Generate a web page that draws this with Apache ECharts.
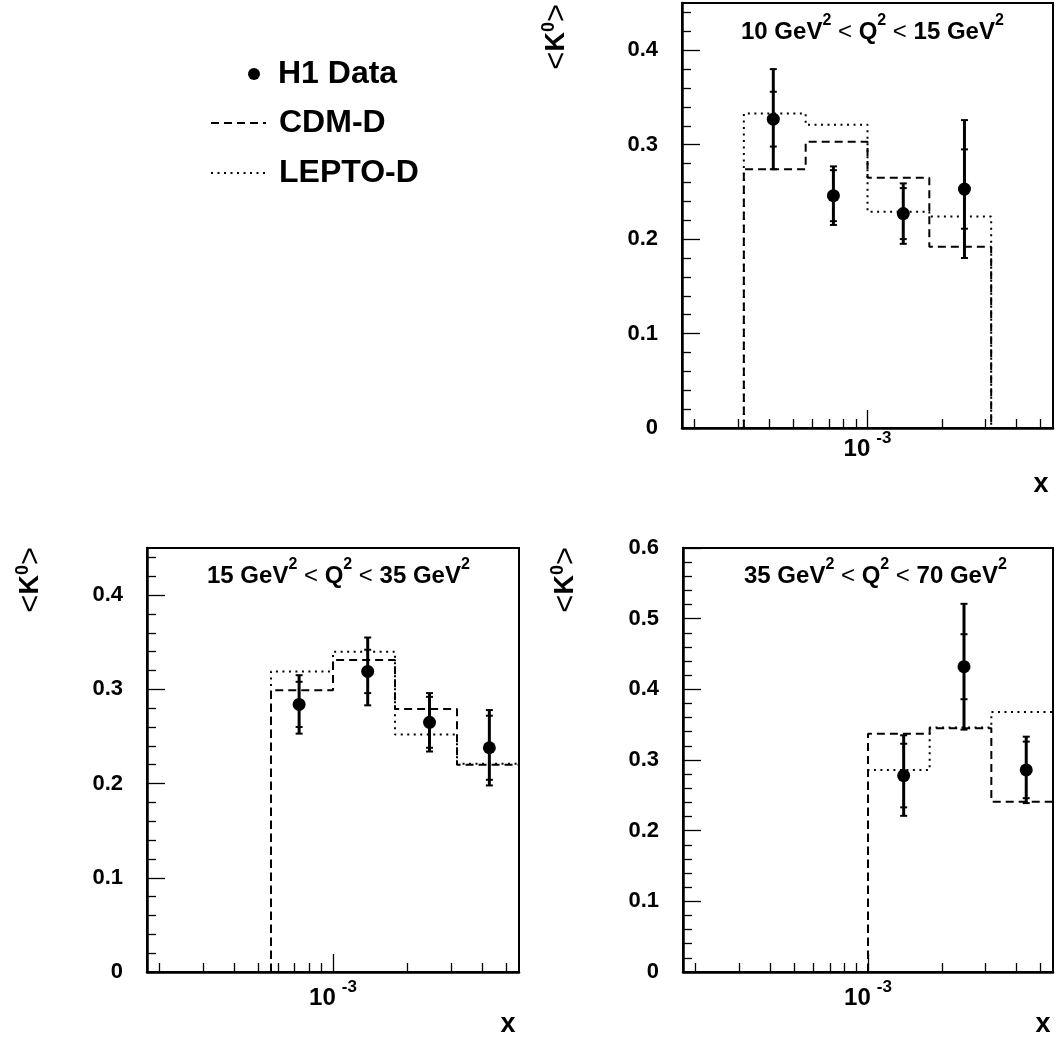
<!DOCTYPE html>
<html>
<head>
<meta charset="utf-8">
<script src="https://cdn.jsdelivr.net/npm/echarts@6/dist/echarts.min.js"></script>
<style>
  html, body { margin: 0; padding: 0; background: #fff; }
  #chart { width: 1057px; height: 1043px; }
</style>
</head>
<body>
<div id="chart"></div>
<script>
// ---------------- DATA ----------------
// Panel A: 10 GeV^2 < Q^2 < 15 GeV^2 (top right)
const edgesA = [3.162e-4, 5.623e-4, 1e-3, 1.778e-3, 3.162e-3];
const cdmA   = [0.274, 0.303, 0.265, 0.192];
const leptoA = [0.333, 0.321, 0.229, 0.224];
const xA     = [4.16e-4, 7.28e-4, 1.395e-3, 2.466e-3];
const valA   = [0.327, 0.246, 0.227, 0.253];
const statA  = [0.029, 0.027, 0.027, 0.042];
const totA   = [0.053, 0.031, 0.032, 0.073];

// Panel B: 15 GeV^2 < Q^2 < 35 GeV^2 (bottom left)
const edgesB = [5.623e-4, 1e-3, 1.778e-3, 3.162e-3, 5.623e-3];
const cdmB   = [0.299, 0.331, 0.279, 0.220];
const leptoB = [0.319, 0.340, 0.252, 0.221];
const xB     = [7.3e-4, 1.38e-3, 2.45e-3, 4.27e-3];
const valB   = [0.284, 0.319, 0.265, 0.238];
const statB  = [0.024, 0.023, 0.027, 0.034];
const totB   = [0.031, 0.036, 0.031, 0.040];

// Panel C: 35 GeV^2 < Q^2 < 70 GeV^2 (bottom right)
const edgesC = [1e-3, 1.778e-3, 3.162e-3, 5.623e-3];
const cdmC   = [0.337, 0.345, 0.241];
const leptoC = [0.286, 0.346, 0.368];
const xC     = [1.395e-3, 2.45e-3, 4.38e-3];
const valC   = [0.278, 0.432, 0.286];
const statC  = [0.045, 0.046, 0.040];
const totC   = [0.057, 0.089, 0.047];

// Axes / ticks
const xMin = 1.778e-4, xMax = 5.623e-3;
const xMajorTicks = [1e-3];
const xMinorTicks = [2e-4, 3e-4, 4e-4, 5e-4, 6e-4, 7e-4, 8e-4, 9e-4, 2e-3, 3e-3, 4e-3, 5e-3];
const yMajorAB = [0, 0.1, 0.2, 0.3, 0.4];
const yMajorC  = [0, 0.1, 0.2, 0.3, 0.4, 0.5, 0.6];
const yMaxAB = 0.45, yMaxC = 0.6;

const titles = [
  ['10 GeV', '2', 'Q', '2', '15 GeV', '2'],
  ['15 GeV', '2', 'Q', '2', '35 GeV', '2'],
  ['35 GeV', '2', 'Q', '2', '70 GeV', '2']
];

// ---------------- BUILD ----------------
const FONT = '"Liberation Sans", Arial, Helvetica, sans-serif';

function minorTicks(max) {
  const out = [];
  for (let i = 1; i * 0.02 < max - 1e-9; i++) {
    if (i % 5 !== 0) out.push(+(i * 0.02).toFixed(2));
  }
  return out;
}

function stepPoints(edges, vals) {
  const pts = [[edges[0], 0]];
  for (let i = 0; i < vals.length; i++) {
    pts.push([edges[i], vals[i]]);
    pts.push([edges[i + 1], vals[i]]);
  }
  pts.push([edges[edges.length - 1], 0]);
  return pts;
}

function renderErr(params, api) {
  const x = api.value(0), y = api.value(1), s = api.value(2), t = api.value(3);
  const c = api.coord([x, y]);
  const top = api.coord([x, y + t]), bot = api.coord([x, y - t]);
  const st = api.coord([x, y + s]), sb = api.coord([x, y - s]);
  const hw = 3.5;
  const cap = p => ({
    type: 'line',
    shape: { x1: c[0] - hw, y1: p[1], x2: c[0] + hw, y2: p[1] },
    style: { stroke: '#000', lineWidth: 2 }
  });
  return {
    type: 'group',
    children: [
      { type: 'line', shape: { x1: c[0], y1: top[1], x2: c[0], y2: bot[1] }, style: { stroke: '#000', lineWidth: 3 } },
      cap(top), cap(bot), cap(st), cap(sb),
      { type: 'circle', shape: { cx: c[0], cy: c[1], r: 6.5 }, style: { fill: '#000' } }
    ]
  };
}

const panels = [
  { grid: { left: 682, top: 3, width: 371, height: 425 }, yMax: yMaxAB, yMajor: yMajorAB,
    edges: edgesA, cdm: cdmA, lepto: leptoA, x: xA, val: valA, stat: statA, tot: totA, labelMargin: 2 },
  { grid: { left: 147, top: 548, width: 372, height: 424 }, yMax: yMaxAB, yMajor: yMajorAB,
    edges: edgesB, cdm: cdmB, lepto: leptoB, x: xB, val: valB, stat: statB, tot: totB, labelMargin: 7 },
  { grid: { left: 683, top: 548, width: 370, height: 424 }, yMax: yMaxC, yMajor: yMajorC,
    edges: edgesC, cdm: cdmC, lepto: leptoC, x: xC, val: valC, stat: statC, tot: totC, labelMargin: 7 }
];

const grid = [], xAxis = [], yAxis = [], series = [];
const axisLineStyle = { color: '#000', width: 2.5 };
const tickStyle = { color: '#000', width: 1.3 };

panels.forEach((p, i) => {
  grid.push(Object.assign({ show: true, borderColor: '#000', borderWidth: 2, backgroundColor: 'transparent' }, p.grid));
  // minor x ticks
  xAxis.push({
    gridIndex: i, type: 'log', logBase: 10, min: xMin, max: xMax, position: 'bottom',
    axisLine: { show: true, lineStyle: axisLineStyle },
    axisTick: { show: true, inside: true, length: 9, customValues: xMinorTicks, lineStyle: tickStyle },
    axisLabel: { show: false }, splitLine: { show: false }, minorTick: { show: false }
  });
  // major x tick + label
  xAxis.push({
    gridIndex: i, type: 'log', logBase: 10, min: xMin, max: xMax, position: 'bottom',
    axisLine: { show: false },
    axisTick: { show: true, inside: true, length: 18, customValues: xMajorTicks, lineStyle: tickStyle },
    axisLabel: {
      show: true, customValues: xMajorTicks, margin: p.labelMargin,
      formatter: () => '{a|10}{b|-3}',
      rich: {
        a: { fontFamily: FONT, fontSize: 24, fontWeight: 'bold', color: '#000', lineHeight: 38 },
        b: { fontFamily: FONT, fontSize: 17, fontWeight: 'bold', color: '#000', lineHeight: 17, verticalAlign: 'top', padding: [0, 0, 0, 6] }
      }
    },
    splitLine: { show: false }
  });
  // major y
  yAxis.push({
    gridIndex: i, type: 'value', min: 0, max: p.yMax, position: 'left',
    axisLine: { show: true, lineStyle: axisLineStyle },
    axisTick: { show: true, inside: true, length: 18, customValues: p.yMajor, lineStyle: tickStyle },
    axisLabel: {
      show: true, customValues: p.yMajor, margin: 24,
      fontFamily: FONT, fontSize: 22, fontWeight: 'bold', color: '#000',
      formatter: v => (Math.abs(v) < 1e-9 ? '0' : v.toFixed(1))
    },
    splitLine: { show: false }
  });
  // minor y
  yAxis.push({
    gridIndex: i, type: 'value', min: 0, max: p.yMax, position: 'left',
    axisLine: { show: false },
    axisTick: { show: true, inside: true, length: 9, customValues: minorTicks(p.yMax), lineStyle: tickStyle },
    axisLabel: { show: false }, splitLine: { show: false }
  });

  series.push({
    name: 'CDM-D', type: 'line', xAxisIndex: 2 * i, yAxisIndex: 2 * i,
    data: stepPoints(p.edges, p.cdm), symbol: 'none', showSymbol: false, silent: true,
    lineStyle: { color: '#000', width: 2, type: [8, 5] }, itemStyle: { color: '#000' }, z: 2
  });
  series.push({
    name: 'LEPTO-D', type: 'line', xAxisIndex: 2 * i, yAxisIndex: 2 * i,
    data: stepPoints(p.edges, p.lepto), symbol: 'none', showSymbol: false, silent: true,
    lineStyle: { color: '#000', width: 2, type: [2, 4.5] }, itemStyle: { color: '#000' }, z: 2
  });
  series.push({
    name: 'H1 Data', type: 'custom', xAxisIndex: 2 * i, yAxisIndex: 2 * i,
    renderItem: renderErr, silent: true, z: 5,
    dimensions: ['x', 'y', 'stat', 'tot'], encode: { x: 0, y: 1 },
    itemStyle: { color: '#000' },
    data: p.x.map((xv, k) => [xv, p.val[k], p.stat[k], p.tot[k]])
  });
});

const titleRich = {
  b: { fontFamily: FONT, fontSize: 24, fontWeight: 'bold', color: '#000', lineHeight: 38 },
  s: { fontFamily: FONT, fontSize: 16, fontWeight: 'bold', color: '#000', lineHeight: 16, verticalAlign: 'top' },
  n: { fontFamily: FONT, fontSize: 24, fontWeight: 'normal', color: '#000', lineHeight: 38 }
};
function titleText(t) {
  return '{b|' + t[0] + '}{s|' + t[1] + '}{n| < }{b|' + t[2] + '}{s|' + t[3] + '}{n| < }{b|' + t[4] + '}{s|' + t[5] + '}';
}
const titlePos = [{ left: 741, top: 13 }, { left: 207, top: 557 }, { left: 744, top: 557 }];
const title = titles.map((t, i) => ({
  text: titleText(t), left: titlePos[i].left, top: titlePos[i].top, padding: 0,
  textStyle: { rich: titleRich }
}));

const kRich = {
  n: { fontFamily: FONT, fontSize: 31, fontWeight: 'normal', color: '#000', lineHeight: 34 },
  k: { fontFamily: FONT, fontSize: 27, fontWeight: 'bold', color: '#000', lineHeight: 34 },
  s: { fontFamily: FONT, fontSize: 18, fontWeight: 'bold', color: '#000', lineHeight: 18, verticalAlign: 'top' }
};
const kPos = [[557, 4], [31, 547], [566, 547]];
const xPos = [[1041, 485], [508, 1025], [1043, 1025]];
const graphic = [];
kPos.forEach(pt => graphic.push({
  type: 'text', x: pt[0], y: pt[1], rotation: Math.PI / 2, silent: true,
  style: { text: '{n|<}{k|K}{s|0}{n|>}', rich: kRich, align: 'right', verticalAlign: 'middle' }
}));
xPos.forEach(pt => graphic.push({
  type: 'text', x: pt[0], y: pt[1], silent: true,
  style: { text: 'x', fontFamily: FONT, fontSize: 27, fontWeight: 'bold', fill: '#000', align: 'center', verticalAlign: 'middle' }
}));

const hidden = { color: 'rgba(0,0,0,0)', borderWidth: 0, borderColor: 'rgba(0,0,0,0)' };
const option = {
  animation: false,
  backgroundColor: '#fff',
  title,
  grid, xAxis, yAxis, series, graphic,
  legend: [
    {
      data: [{ name: 'H1 Data', icon: 'circle' }],
      orient: 'vertical', left: 248, top: 58, padding: 0, selectedMode: false,
      itemWidth: 12, itemHeight: 12,
      textStyle: { fontFamily: FONT, fontSize: 32, fontWeight: 'bold', color: '#000', lineHeight: 30, padding: [0, 0, 0, 13] }
    },
    {
      data: [{ name: 'CDM-D', itemStyle: hidden }, { name: 'LEPTO-D', itemStyle: hidden }],
      orient: 'vertical', left: 210, top: 107, padding: 0, selectedMode: false,
      itemWidth: 55, itemHeight: 14, itemGap: 18,
      textStyle: { fontFamily: FONT, fontSize: 32, fontWeight: 'bold', color: '#000', lineHeight: 30, padding: [0, 0, 0, 8] }
    }
  ]
};

const chart = echarts.init(document.getElementById('chart'), null, { renderer: 'canvas' });
chart.setOption(option);
</script>
</body>
</html>
